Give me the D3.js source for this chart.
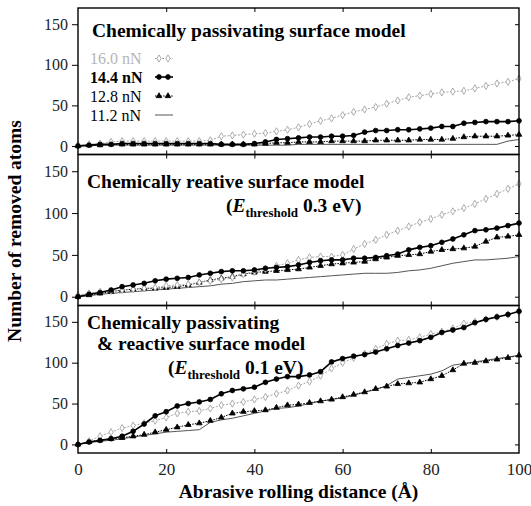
<!DOCTYPE html>
<html>
<head>
<meta charset="utf-8">
<script src="https://cdn.jsdelivr.net/npm/d3@7/dist/d3.min.js"></script>
<style>
  body { margin: 0; background: #fff; }
  text { font-family: "Liberation Serif", "Times New Roman", "DejaVu Serif", serif; }
</style>
</head>
<body>
<div id="chart"></div>
<script>
// abrasive rolling distance (Å)
const distance = [0, 2.5, 5, 7.5, 10, 12.5, 15, 17.5, 20, 22.5, 25, 27.5, 30, 32.5, 35, 37.5, 40,
  42.5, 45, 47.5, 50, 52.5, 55, 57.5, 60, 62.5, 65, 67.5, 70, 72.5, 75, 77.5, 80, 82.5, 85, 87.5,
  90, 92.5, 95, 97.5, 100];

const forces = ["16.0 nN", "14.4 nN", "12.8 nN", "11.2 nN"];
const xTicks = [0, 20, 40, 60, 80, 100];
const yTicks = [0, 50, 100, 150];

// panel 1: chemically passivating surface
const passiv160 = [1, 2, 3, 5, 6, 6, 6, 6, 6, 6, 6, 6, 7, 12, 13, 14, 15, 16, 18, 20, 23, 27, 31, 34,
  38, 42, 45, 48, 52, 56, 60, 62, 64, 66, 67, 68, 71, 74, 77, 79, 83];
const passiv144 = [0, 1, 2, 2, 3, 3, 3, 3, 3, 3, 3, 3, 3, 2, 2, 2, 3, 5, 8, 9, 10, 11, 11, 12, 12, 13,
  17, 19, 19, 20, 20, 21, 22, 24, 24, 28, 29, 30, 30, 30, 31];
const passiv128 = [0, 1, 1, 2, 2, 2, 2, 2, 2, 2, 2, 2, 2, 2, 2, 2, 2, 3, 4, 4, 5, 5, 5, 6, 6, 6, 6, 7,
  7, 7, 7, 8, 8, 8, 9, 11, 12, 12, 12, 13, 14];
const passiv112 = [0, 0, 1, 1, 1, 1, 1, 1, 1, 1, 1, 1, 1, 1, 1, 1, 1, 1, 1, 1, 2, 2, 2, 2, 2, 2, 2, 2,
  2, 2, 2, 2, 2, 2, 2, 2, 2, 2, 2, 6, 8];

// panel 2: chemically reactive surface, E threshold 0.3 eV
const react160 = [2, 4, 6, 7, 8, 9, 10, 11, 13, 14, 15, 17, 19, 21, 23, 27, 30, 33, 37, 40, 44, 47, 48,
  48, 50, 57, 63, 68, 74, 79, 84, 89, 93, 98, 102, 106, 111, 117, 123, 129, 135];
const react144 = [0, 3, 5, 8, 12, 14, 16, 19, 21, 22, 23, 26, 28, 30, 31, 31, 32, 34, 35, 36, 38, 41,
  43, 44, 44, 46, 46, 47, 49, 51, 56, 59, 61, 65, 69, 74, 79, 80, 82, 85, 88];
const react128 = [0, 2, 4, 6, 8, 9, 10, 10, 11, 12, 14, 17, 20, 22, 24, 27, 29, 30, 31, 32, 33, 35, 37,
  39, 40, 41, 42, 45, 47, 49, 50, 51, 54, 56, 57, 58, 60, 66, 71, 72, 74];
const react112 = [0, 1, 3, 4, 5, 6, 7, 8, 9, 10, 11, 12, 13, 15, 16, 18, 19, 20, 20, 21, 22, 23, 24,
  25, 26, 27, 28, 28, 28, 29, 31, 32, 34, 37, 40, 42, 44, 44, 45, 46, 48];

// panel 3: passivating & reactive surface, E threshold 0.1 eV
const mixed160 = [0, 4, 10, 15, 20, 23, 26, 29, 33, 38, 40, 41, 44, 48, 50, 52, 55, 58, 62, 66, 72, 77,
  84, 93, 100, 106, 111, 117, 123, 127, 128, 131, 135, 138, 142, 148, 150, 153, 156, 159, 162];
const mixed144 = [0, 3, 5, 7, 10, 16, 25, 35, 40, 47, 50, 52, 55, 62, 66, 68, 70, 76, 80, 83, 83, 85,
  89, 101, 105, 108, 110, 113, 117, 121, 124, 127, 131, 137, 140, 143, 149, 153, 156, 159, 163];
const mixed128 = [0, 3, 5, 7, 8, 10, 12, 15, 18, 21, 24, 26, 29, 33, 38, 40, 41, 42, 45, 48, 49, 51,
  53, 55, 58, 61, 64, 68, 71, 74, 75, 76, 80, 84, 91, 99, 100, 102, 104, 106, 109];
const mixed112 = [0, 2, 4, 5, 7, 9, 11, 13, 15, 16, 17, 18, 27, 30, 32, 35, 38, 41, 44, 45, 47, 50, 53,
  55, 57, 60, 64, 67, 72, 80, 82, 84, 86, 90, 97, 99, 101, 103, 105, 107, 109];

const panelSeries = [
  [passiv160, passiv144, passiv128, passiv112],
  [react160, react144, react128, react112],
  [mixed160, mixed144, mixed128, mixed112]
];

// ---- layout ----
const width = 531, height = 506;
const left = 78, right = 519;
const panelTop = [8, 154.5, 305.5];
const panelBottom = [154.5, 305.5, 453];
const serif = "Liberation Serif, Times New Roman, serif";

const svg = d3.select("#chart").append("svg")
  .attr("width", width).attr("height", height)
  .style("background", "#fff");

const x = d3.scaleLinear().domain([0, 100]).range([left, right]);

// style of each force series (same order as forces)
const styles = [
  { stroke: "#a6a6a6", width: 1, dash: "2,1.5", symbol: d3.symbolDiamond, size: 15, fill: "#fff", mstroke: "#999" },
  { stroke: "#000", width: 1.6, dash: null, symbol: d3.symbolCircle, size: 18, fill: "#000", mstroke: "#000" },
  { stroke: "#000", width: 1, dash: "1.5,1.2", symbol: d3.symbolTriangle, size: 14, fill: "#000", mstroke: "#000" },
  { stroke: "#555", width: 1, dash: null, symbol: null }
];
const drawOrder = [3, 2, 0, 1];

panelSeries.forEach((series, p) => {
  const y = d3.scaleLinear().domain([-10.5, 170]).range([panelBottom[p], panelTop[p]]);
  const g = svg.append("g");

  // left axis with outward ticks
  g.append("g")
    .attr("transform", `translate(${left},0)`)
    .call(d3.axisLeft(y).tickValues(yTicks).tickSize(6).tickPadding(4))
    .call(a => a.select(".domain").remove())
    .selectAll("text")
    .style("font-size", "16px")
    .style("font-family", serif)
    .attr("fill", "#222");

  // inner ticks on the right, top and bottom
  g.append("g")
    .attr("transform", `translate(${right},0)`)
    .call(d3.axisRight(y).tickValues(yTicks).tickSize(-4).tickFormat(""))
    .call(a => a.select(".domain").remove());
  g.append("g")
    .attr("transform", `translate(0,${panelTop[p]})`)
    .call(d3.axisTop(x).tickValues(xTicks.slice(1, -1)).tickSize(-4).tickFormat(""))
    .call(a => a.select(".domain").remove());
  g.append("g")
    .attr("transform", `translate(0,${panelBottom[p]})`)
    .call(d3.axisBottom(x).tickValues(xTicks.slice(1, -1)).tickSize(-4).tickFormat(""))
    .call(a => a.select(".domain").remove());

  const line = d3.line()
    .x((d, i) => x(distance[i]))
    .y(d => y(d));

  drawOrder.forEach(k => {
    const st = styles[k];
    g.append("path")
      .datum(series[k])
      .attr("d", line)
      .attr("fill", "none")
      .attr("stroke", st.stroke)
      .attr("stroke-width", st.width)
      .attr("stroke-dasharray", st.dash);
    if (st.symbol) {
      g.selectAll(null)
        .data(series[k])
        .enter()
        .append("path")
        .attr("transform", (d, i) => `translate(${x(distance[i])},${y(d)})`)
        .attr("d", d3.symbol().type(st.symbol).size(st.size))
        .attr("fill", st.fill)
        .attr("stroke", st.mstroke)
        .attr("stroke-width", 0.8);
    }
  });

  // panel frame
  g.append("rect")
    .attr("x", left).attr("y", panelTop[p])
    .attr("width", right - left).attr("height", panelBottom[p] - panelTop[p])
    .attr("fill", "none")
    .attr("stroke", "#000")
    .attr("stroke-width", 1.4);
});

// bottom x axis labels
svg.append("g")
  .attr("transform", `translate(0,${panelBottom[2]})`)
  .call(d3.axisBottom(x).tickValues(xTicks).tickSize(0).tickPadding(10))
  .call(a => a.select(".domain").remove())
  .selectAll("text")
  .style("font-size", "17px")
  .style("font-family", serif)
  .attr("fill", "#222");

// axis titles
svg.append("text")
  .attr("x", (left + right) / 2)
  .attr("y", 498)
  .attr("text-anchor", "middle")
  .style("font-size", "19.5px")
  .style("font-weight", "bold")
  .text("Abrasive rolling distance (Å)");

svg.append("text")
  .attr("transform", "translate(21,231) rotate(-90)")
  .attr("text-anchor", "middle")
  .style("font-size", "19.5px")
  .style("font-weight", "bold")
  .text("Number of removed atoms");

// panel titles
function title(xp, yp, txt) {
  svg.append("text")
    .attr("x", xp).attr("y", yp)
    .style("font-size", "19.5px")
    .style("font-weight", "bold")
    .text(txt);
}
function threshold(xp, yp, val) {
  const t = svg.append("text")
    .attr("x", xp).attr("y", yp)
    .style("font-size", "19.5px")
    .style("font-weight", "bold");
  t.append("tspan").text("(");
  t.append("tspan").style("font-style", "italic").text("E");
  t.append("tspan").attr("dy", 5).style("font-size", "13px").text("threshold");
  t.append("tspan").attr("dy", -5).text(` ${val} eV)`);
}

title(92, 36.5, "Chemically passivating surface model");
title(87, 188, "Chemically reative surface model");
threshold(226, 211.5, "0.3");
title(87, 329, "Chemically passivating");
title(97, 349.5, "& reactive surface model");
threshold(168, 373.5, "0.1");

// legend (panel 1)
const legendY = [58.5, 77, 96, 115];
forces.forEach((f, k) => {
  const st = styles[k];
  svg.append("text")
    .attr("x", 90).attr("y", legendY[k] + 5.5)
    .style("font-size", "16px")
    .style("font-weight", k === 1 ? "bold" : "normal")
    .attr("fill", k === 0 ? "#b5b5b5" : "#000")
    .text(f);
  svg.append("line")
    .attr("x1", 155).attr("x2", 173)
    .attr("y1", legendY[k]).attr("y2", legendY[k])
    .attr("stroke", st.stroke)
    .attr("stroke-width", st.width)
    .attr("stroke-dasharray", st.dash);
  if (st.symbol) {
    [159, 168].forEach(px => {
      svg.append("path")
        .attr("transform", `translate(${px},${legendY[k]})`)
        .attr("d", d3.symbol().type(st.symbol).size(st.size))
        .attr("fill", st.fill)
        .attr("stroke", st.mstroke)
        .attr("stroke-width", 0.8);
    });
  }
});
</script>
</body>
</html>
